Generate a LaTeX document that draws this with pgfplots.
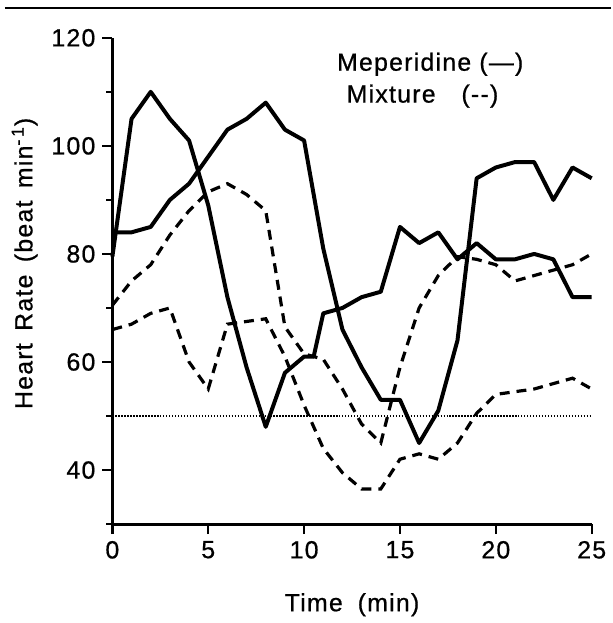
\documentclass[border=0pt]{standalone}
\usepackage{fontspec}
\setmainfont{Liberation Sans}[LetterSpace=5, FakeBold=0.7]
\usepackage{pgfplots}
\pgfplotsset{compat=1.18}

\begin{document}
\begin{tikzpicture}
\begin{axis}[
    name=ax,
    width=241pt, height=244.5pt, scale only axis,
    xmin=0, xmax=25, ymin=30, ymax=120,
    axis lines=left,
    axis line style={-, line width=1.5pt},
    xtick={0,5,...,25},
    ytick={40,60,...,120},
    minor ytick={30,50,70,90,110},
    tick align=outside,
    major tick length=5pt, minor tick length=3pt,
    every tick/.style={black, line width=1.2pt},
    /pgf/number format/assume math mode=true,
    tick label style={font=\fontsize{12.5}{14}\selectfont},
    xlabel={Time\hspace{0.6em}(min)},
    ylabel={Heart\hspace{0.5em}Rate\hspace{0.5em}(beat\hspace{0.5em}min\textsuperscript{-\,1})},
    label style={font=\fontsize{12.5}{14}\selectfont},
    xlabel style={at={(axis description cs:0.5,-0.166)}, anchor=center},
    ylabel style={at={(axis description cs:-0.183,0.536)}, anchor=center, rotate=0},
    clip=false,
]
% reference line at 50
\addplot[black, line width=0.7pt, dash pattern=on 0.7pt off 0.8pt] coordinates {(0,50) (25,50)};

% meperidine, subject 1
\addplot[black, line width=2pt, line join=round] coordinates {
(0,79.5) (1,105) (2,110) (3,105) (4,101) (5,89) (6,72) (7,59) (8,48) (9,58)
(10,61) (10.5,61) (11,69) (12,70) (13,72) (14,73) (15,85) (16,82) (17,84)
(18,79) (19,82) (20,79) (21,79) (22,80) (23,79) (24,72) (25,72)};

% meperidine, subject 2
\addplot[black, line width=2pt, line join=round] coordinates {
(0,84) (1,84) (2,85) (3,90) (4,93) (5,98) (6,103) (7,105) (8,108) (9,103)
(10,101) (11,81) (12,66) (13,59) (14,53) (15,53) (16,45) (17,51) (18,64)
(19,94) (20,96) (21,97) (22,97) (23,90) (24,96) (25,94)};

% mixture, subject 1
\addplot[black, line width=1.6pt, dash pattern=on 5pt off 3.5pt] coordinates {
(0,70.5) (1,75) (2,78) (3,83.5) (4,88) (5,91.5) (6,93) (7,91) (8,88) (9,66.5)
(10,61.5) (11,60.5) (12,55) (13,48.5) (14,45) (15,59) (16,70) (17,76)
(18,79.5) (19,79) (20,78) (21,75) (22,76) (23,77) (24,78) (25,80)};

% mixture, subject 2
\addplot[black, line width=1.6pt, dash pattern=on 5pt off 3.5pt] coordinates {
(0,66) (1,67) (2,69) (3,70) (4,60) (5,55) (6,67) (7,67.5) (8,68) (9,61)
(10,52) (11,44) (12,39.5) (13,36.5) (14,36.5) (15,42) (16,43) (17,42)
(18,45) (19,50.5) (20,54) (21,54.5) (22,55) (23,56) (24,57) (25,55)};

\node[anchor=west, font=\fontsize{12.5}{14}\selectfont, inner sep=0pt] at (axis cs:11.7,115.1) {Meperidine (—)};
\node[anchor=west, font=\fontsize{12.5}{14}\selectfont, inner sep=0pt] at (axis cs:12.2,109.2) {Mixture\hspace{13pt}(-{}-)};
\end{axis}
\draw[line width=1.1pt] ([xshift=-54pt,yshift=259.5pt]ax.south west) -- ([xshift=250.5pt,yshift=259.5pt]ax.south west);
\path ([xshift=-56.5pt,yshift=-48pt]ax.south west) rectangle ([xshift=250.5pt,yshift=263.5pt]ax.south west);
\end{tikzpicture}
\end{document}
